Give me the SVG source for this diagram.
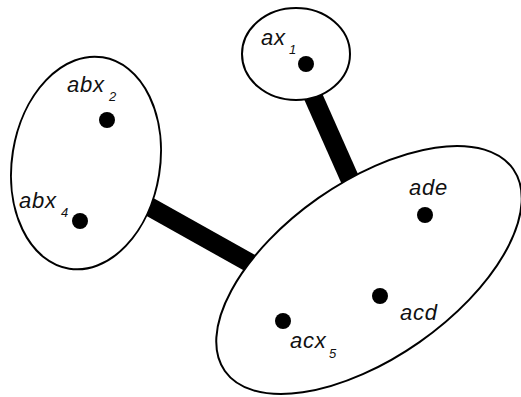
<svg xmlns="http://www.w3.org/2000/svg" width="521" height="397" viewBox="0 0 521 397">
<style>
.set{fill:#fff;stroke:#000;stroke-width:2}
.dot{fill:#000}
.lbl{font-family:"Liberation Sans",Arial,sans-serif;font-style:italic;font-size:22px;letter-spacing:0.8px;fill:#111}
.sub{font-family:"Liberation Sans",Arial,sans-serif;font-style:italic;font-size:13px;fill:#111}
.bar{stroke:#000;stroke-width:19;fill:none}
</style>
<rect width="521" height="397" fill="#fff"/>
<g id="connectors">
<line class="bar" x1="297" y1="60" x2="368" y2="220"/>
<line class="bar" x1="100" y1="179" x2="300" y2="291"/>
</g>
<g id="node-ax1">
<ellipse class="set" cx="296" cy="54" rx="54" ry="46"/>
<circle class="dot" cx="306" cy="64" r="8"/>
<text class="lbl" x="261" y="45">ax</text>
<text class="sub" x="289" y="54">1</text>
</g>
<g id="node-abx">
<ellipse class="set" cx="86" cy="163" rx="74" ry="107" transform="rotate(9 86 163)"/>
<circle class="dot" cx="107" cy="120" r="8"/>
<circle class="dot" cx="80" cy="221" r="8"/>
<text class="lbl" x="67" y="92">abx</text>
<text class="sub" x="109" y="101">2</text>
<text class="lbl" x="19" y="208">abx</text>
<text class="sub" x="61" y="217">4</text>
</g>
<g id="node-ac">
<ellipse class="set" cx="369" cy="270" rx="176" ry="88" transform="rotate(-35 369 270)"/>
<circle class="dot" cx="425" cy="215" r="8"/>
<circle class="dot" cx="380" cy="296" r="8"/>
<circle class="dot" cx="283" cy="321" r="8"/>
<text class="lbl" x="409" y="195">ade</text>
<text class="lbl" x="400" y="320">acd</text>
<text class="lbl" x="290" y="348">acx</text>
<text class="sub" x="329" y="358">5</text>
</g>
</svg>
